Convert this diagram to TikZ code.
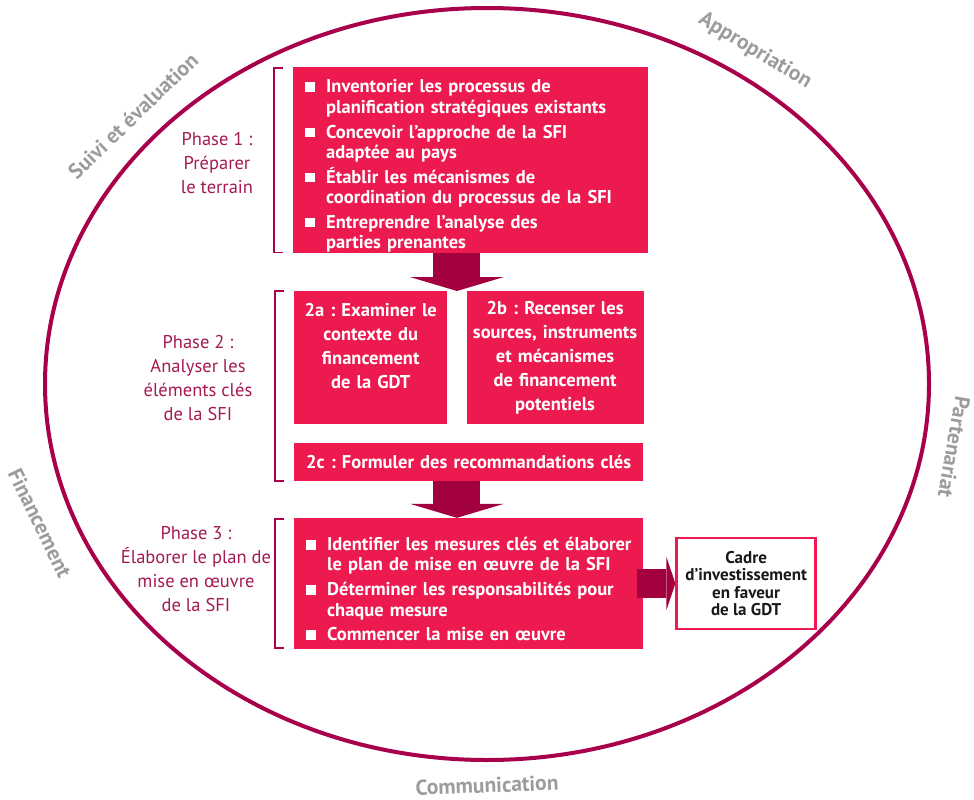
\documentclass[tikz,border=0pt]{standalone}
\usepackage{fontspec}
\setmainfont{PT Sans}
\usepackage{xcolor}
\usepackage{tikz}
\usetikzlibrary{positioning,calc,arrows.meta}
\frenchspacing

\definecolor{rose}{HTML}{EC1A4F}
\definecolor{bordeaux}{HTML}{A3003F}
\definecolor{ovale}{HTML}{A8004A}
\definecolor{phasecol}{HTML}{A41A52}
\definecolor{grisclair}{HTML}{9C9C9C}

\newcommand{\puce}[1]{\par\hangindent=21pt\hangafter=1\noindent\makebox[21pt][l]{\rule[1pt]{10pt}{9.5pt}}#1}

\tikzset{
  etape/.style={fill=rose, text=white, font=\bfseries\fontsize{18.5}{24}\selectfont, inner xsep=2pt, inner ysep=0pt},
  etapeliste/.style={etape, font=\bfseries\fontsize{18.5}{20.3}\selectfont, inner xsep=0pt},
  phase/.style={text=phasecol, font=\fontsize{18.5}{24}\selectfont, align=center, inner sep=0pt},
  cercletxt/.style={text=grisclair, font=\bfseries\fontsize{21.5}{24}\selectfont, inner sep=0pt},
  crochet/.style={draw=ovale, line width=1.5pt},
  fleche/.style={draw=bordeaux, line width=47pt, -{Triangle[length=14pt, width=94pt, line width=0pt]}},
  flechecote/.style={draw=bordeaux, line width=29pt, -{Triangle[length=9pt, width=53pt, line width=0pt]}},
}

\begin{document}
\begin{tikzpicture}[x=1pt, y=-1pt]
  \useasboundingbox (0,0) rectangle (974,800);

  % cercle et thèmes
  \draw[ovale, line width=4pt] (487,384) ellipse [x radius=442, y radius=376];
  \node (suivi) [cercletxt, rotate=44] at (133,116) {Suivi et évaluation};
  \node (appro) [cercletxt, rotate=-31] at (755,51) {Appropriation};
  \node (parten) [cercletxt, rotate=-100] at (954,447) {Partenariat};
  \node (financ) [cercletxt, rotate=-64] at (40,523) {Financement};
  \node (commun) [cercletxt, rotate=2] at (487,785) {Communication};

  % phase 1
  \node (etape1) [etapeliste, anchor=north west, minimum width=355pt, minimum height=186pt, text width=355pt] at (293,67)
    {\setlength{\parskip}{4.5pt}\raggedright\leftskip=12pt
     \puce{Inventorier les processus de\newline planification stratégiques existants}
     \puce{Concevoir l’approche de la SFI\newline adaptée au pays}
     \puce{Établir les mécanismes de\newline coordination du processus de la SFI}
     \puce{Entreprendre l’analyse des\newline parties prenantes}\par};

  % phase 2
  \node (etape2a) [etape, align=center, anchor=north west, minimum width=153pt, minimum height=133pt, text width=149pt] at (294,291)
    {2a : Examiner le\\contexte du\\financement\\de la GDT\\\mbox{}};
  \node (etape2b) [etape, align=center, right=19pt of etape2a, minimum width=177pt, minimum height=133pt, text width=175pt, inner xsep=1pt]
    {2b : Recenser les\\sources, instruments\\et mécanismes\\de financement\\potentiels};
  \node (etape2c) [etape, align=center, below=18pt of etape2a.south west, anchor=north west, minimum width=349pt, minimum height=38pt, text width=345pt]
    {2c : Formuler des recommandations clés};

  % phase 3
  \node (etape3) [etapeliste, below=37pt of etape2c.south west, anchor=north west, minimum width=349pt, minimum height=131pt, text width=349pt]
    {\setlength{\parskip}{4.5pt}\raggedright\leftskip=12pt
     \puce{Identifier les mesures clés et élaborer\newline le plan de mise en œuvre de la SFI}
     \puce{Déterminer les responsabilités pour\newline chaque mesure}
     \puce{Commencer la mise en œuvre}\par};
  \node (cadre) [right=32pt of etape3, draw=rose, line width=2.5pt, fill=white, minimum width=139pt, minimum height=91pt,
    align=center, font=\bfseries\fontsize{17}{17.3}\selectfont, text=black!90, inner sep=0pt]
    {Cadre\\d’investissement\\en faveur\\de la GDT};

  % libellés des phases
  \node (phase1) [phase] at (217,163) {Phase 1 :\\Préparer\\le terrain};
  \node (phase2) [phase] at (198,378) {Phase 2 :\\Analyser les\\éléments clés\\de la SFI};
  \node (phase3) [phase] at (196,569) {Phase 3 :\\Élaborer le plan de\\mise en œuvre\\de la SFI};

  % crochets
  \draw[crochet] ($(etape1.north west)+(-10,1)$) -- ++(-9,0) |- ($(etape1.south west)+(-10,-1)$);
  \draw[crochet] ($(etape2a.north west)+(-10,0)$) -- ++(-9,0) |- ($(etape2c.south west)+(-10,0)$);
  \draw[crochet] ($(etape3.north west)+(-10,1)$) -- ++(-9,0) |- ($(etape3.south west)+(-10,-1)$);

  % flèches
  \coordinate (fente) at ($(etape2a.east)!0.5!(etape2b.west)$);
  \draw[fleche] (etape1.south -| fente) -- (fente |- etape2a.north);
  \draw[fleche] (etape2c.south -| fente) -- (fente |- etape3.north);
  \draw[flechecote, shorten <=-6pt] (etape3.east) -- (cadre.west);
\end{tikzpicture}
\end{document}
